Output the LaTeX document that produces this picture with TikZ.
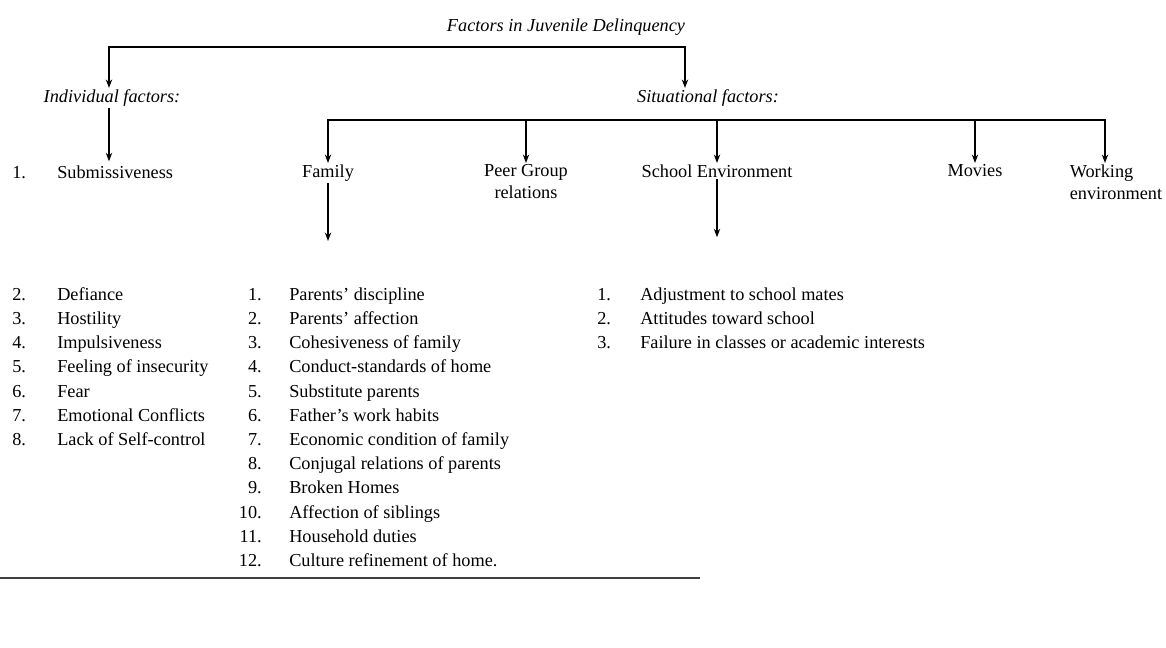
\documentclass[tikz,border=0pt]{standalone}
\usepackage{fontspec}
\setmainfont{Liberation Serif}
\usetikzlibrary{arrows.meta,positioning,calc}

\begin{document}
\begin{tikzpicture}[
  x=0.025cm, y=-0.025cm,
  font=\fontsize{13}{15.5}\selectfont,
  head/.style={font=\fontsize{13}{15.5}\selectfont\itshape,inner sep=1pt},
  cat/.style={anchor=north,align=center,inner sep=1pt},
  item/.style={anchor=west,inner sep=0pt,text height=9pt,text depth=3pt},
  num/.style={anchor=west,inner sep=0pt,text height=9pt,text depth=3pt},
  arr/.style={-{Stealth[length=6pt,width=4.5pt]},line width=1.3pt},
  rule/.style={line width=1.8pt,black!75}
]
  \useasboundingbox (0,0) rectangle (1166,648);

  % headings
  \node[head] (title) at (566,27) {Factors in Juvenile Delinquency};
  \node[head] (indiv) at (112,98) {Individual factors:};
  \node[head] (situ)  at (708,98) {Situational factors:};

  \coordinate (bar1) at (566,47);
  \draw[arr] (bar1) -| ($(indiv.north)+(-3,0)$);
  \draw[arr] (bar1) -| ($(situ.north)+(-23,0)$);

  % situational branches
  \node[cat] (family) at (328,163) {Family};
  \node[cat] (peer)   at (526,163) {Peer Group\\relations};
  \node[cat] (school) at (717,163) {School Environment};
  \node[cat] (movies) at (975,163) {Movies};
  \node[cat,align=left] (work) at (1116,163) {Working\\environment};

  \coordinate (bar2) at (717,120);
  \draw[arr] (bar2) -| (family.north);
  \draw[arr] (bar2) -| (peer.north);
  \draw[arr] (bar2) -- (school.north);
  \draw[arr] (bar2) -| (movies.north);
  \draw[arr] (bar2) -| ($(work.north)+(-11,0)$);

  % individual factors
  \node[num]  (indn1) at (12,174) {1.};
  \node[item] (ind1)  at (57,174) {Submissiveness};
  \draw[arr] ($(indiv.south)+(-3,0)$) -- ($(indiv.south |- ind1.north)+(-3,-4)$);

  \foreach \t [count=\i from 2] in {Defiance,Hostility,Impulsiveness,
      Feeling of insecurity,Fear,Emotional Conflicts,Lack of Self-control}{
    \node[num]  (indn\i) at (12,{296+(\i-2)*24.2}) {\i.};
    \node[item] (ind\i)  at (57,{296+(\i-2)*24.2}) {\t};
  }

  % family
  \foreach \t [count=\i] in {Parents' discipline,Parents' affection,
      Cohesiveness of family,Conduct-standards of home,Substitute parents,
      Father's work habits,Economic condition of family,
      Conjugal relations of parents,Broken Homes,Affection of siblings,
      Household duties,Culture refinement of home.}{
    \node[num,anchor=east] (famn\i) at (262,{296+(\i-1)*24.2}) {\i.};
    \node[item] (fam\i) at (289,{296+(\i-1)*24.2}) {\t};
  }
  \draw[arr] (family.south) -- ++(0,58);

  % school
  \foreach \t [count=\i] in {Adjustment to school mates,
      Attitudes toward school,Failure in classes or academic interests}{
    \node[num] (schn\i) at (597,{296+(\i-1)*24.2}) {\i.};
    \node[item] (sch\i) at (640,{296+(\i-1)*24.2}) {\t};
  }
  \draw[arr] (school.south) -- ++(0,58);

  \draw[rule] (0,578) -- (700,578);
\end{tikzpicture}
\end{document}
